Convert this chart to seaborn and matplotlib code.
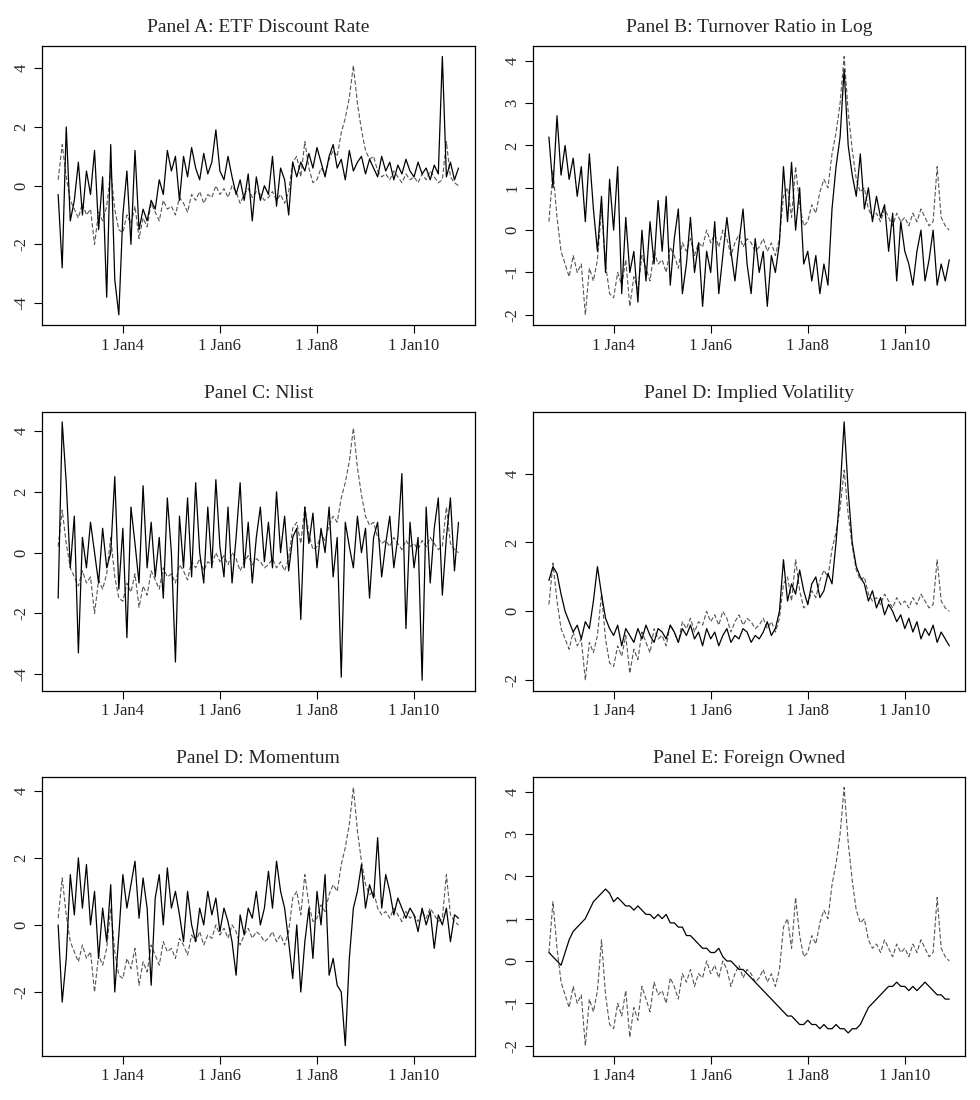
import numpy as np
import pandas as pd
import matplotlib
matplotlib.use("Agg")
import matplotlib.pyplot as plt
import seaborn as sns

sns.set_theme(style="white")
plt.rcParams['font.family'] = ['Liberation Serif', 'DejaVu Serif']

t = 2002 + 8/12 + np.arange(100) / 12.0

dashed = [0.2, 1.4, 0.3, -0.5,
 -0.8, -1.1, -0.6, -1.0, -0.8, -2.0, -0.9, -1.2, -0.7, 0.5, -0.8, -1.5,
 -1.6, -1.0, -1.3, -0.7, -1.8, -1.1, -1.4, -0.6, -0.9, -1.2, -0.5, -0.8,
 -0.7, -1.0, -0.4, -0.6, -0.9, -0.3, -0.5, -0.2, -0.6, -0.3, -0.4, 0.0,
 -0.3, -0.1, -0.4, 0.0, -0.2, -0.6, -0.3, -0.1, -0.4, -0.2, -0.3, -0.5,
 -0.4, -0.2, -0.5, -0.3, -0.6, -0.2, 0.8, 1.0, 0.3, 1.5, 0.6, 0.1,
 0.2, 0.6, 0.4, 0.9, 1.2, 1.0, 1.8, 2.3, 3.0, 4.1, 2.8, 1.9,
 1.2, 0.9, 1.0, 0.5, 0.3, 0.4, 0.2, 0.5, 0.3, 0.1, 0.4, 0.2,
 0.3, 0.1, 0.4, 0.2, 0.5, 0.3, 0.1, 0.2, 1.5, 0.3, 0.1, 0.0]

etf_discount = [-0.3, -2.8, 2.0, -1.2,
 -0.5, 0.8, -1.0, 0.5, -0.3, 1.2, -1.5, 0.3, -3.8, 1.4, -3.2, -4.4,
 -1.0, 0.5, -2.0, 1.2, -1.5, -0.8, -1.2, -0.5, -0.8, 0.2, -0.3, 1.2,
 0.5, 1.0, -0.5, 1.0, 0.3, 1.3, 0.6, 0.2, 1.1, 0.4, 0.8, 1.9,
 0.5, 0.2, 1.0, 0.3, -0.3, 0.2, -0.5, 0.4, -1.2, 0.3, -0.5, 0.0,
 -0.3, 1.0, -0.7, 0.6, 0.2, -1.0, 0.8, 0.3, 0.8, 0.5, 1.1, 0.6,
 1.3, 0.8, 0.3, 1.0, 1.4, 0.6, 0.9, 0.2, 1.2, 0.5, 0.8, 1.0,
 0.4, 0.9, 0.6, 0.3, 1.0, 0.5, 0.8, 0.2, 0.7, 0.4, 0.9, 0.5,
 0.3, 0.8, 0.4, 0.6, 0.2, 0.7, 0.4, 4.4, 0.3, 0.8, 0.2, 0.6]

turnover = [2.2, 1.0, 2.7, 1.3,
 2.0, 1.2, 1.7, 0.8, 1.5, 0.2, 1.8, 0.5, -0.5, 0.8, -1.0, 1.2,
 0.0, 1.5, -1.5, 0.3, -1.0, -0.5, -1.7, 0.0, -1.2, 0.2, -0.8, 0.7,
 -0.5, 0.8, -1.3, -0.2, 0.5, -1.5, -0.8, 0.3, -1.0, -0.3, -1.8, -0.5,
 -1.0, 0.2, -1.5, -0.6, 0.3, -0.5, -1.2, -0.3, 0.5, -0.8, -1.5, -0.2,
 -1.0, -0.5, -1.8, -0.6, -1.0, -0.3, 1.5, 0.2, 1.6, 0.0, 1.0, -0.8,
 -0.5, -1.2, -0.6, -1.5, -0.8, -1.3, 0.5, 1.5, 2.2, 3.8, 2.0, 1.3,
 0.8, 1.8, 0.5, 1.0, 0.2, 0.8, 0.3, 0.6, -0.5, 0.4, -1.2, 0.2,
 -0.5, -0.8, -1.3, -0.5, 0.0, -1.2, -0.7, 0.0, -1.3, -0.8, -1.2, -0.7]

nlist = [-1.5, 4.3, 2.3, -0.5,
 1.2, -3.3, 0.5, -0.5, 1.0, 0.0, -1.0, 0.8, -0.5, 0.0, 2.5, -1.2,
 0.8, -2.8, 1.5, 0.3, -1.0, 2.2, -0.5, 1.0, -0.8, 0.5, -1.5, 1.8,
 0.0, -3.6, 1.2, -0.5, 1.8, -0.8, 2.3, 0.0, -1.0, 1.5, -0.5, 2.4,
 0.2, -0.8, 1.5, -1.0, 0.5, 2.3, -0.5, 1.0, -1.0, 0.5, 1.5, -0.3,
 1.0, -0.5, 2.0, 0.0, 1.2, -0.6, 0.5, 0.8, -2.2, 1.5, 0.3, 1.3,
 -0.5, 0.8, 0.0, 1.5, -0.8, 0.5, -4.1, 1.0, 0.2, -0.5, 1.2, 0.0,
 0.8, -1.5, 0.5, 1.0, -0.8, 0.3, 1.2, -0.5, 0.5, 2.6, -2.5, 1.0,
 -0.5, 0.5, -4.2, 1.5, -1.0, 0.8, 1.8, -1.4, 0.5, 1.8, -0.6, 1.0]

implied_vol = [0.9, 1.3, 1.1, 0.5,
 0.0, -0.3, -0.6, -0.4, -0.8, -0.3, -0.5, 0.3, 1.3, 0.5, -0.2, -0.5,
 -0.7, -0.4, -1.0, -0.5, -0.7, -0.9, -0.5, -0.8, -0.4, -0.7, -0.9, -0.5,
 -0.6, -0.8, -0.4, -0.6, -0.9, -0.5, -0.7, -0.4, -0.8, -0.6, -1.0, -0.5,
 -0.8, -0.6, -1.0, -0.7, -0.5, -0.9, -0.7, -0.8, -0.5, -0.6, -0.9, -0.7,
 -0.8, -0.6, -0.3, -0.7, -0.5, 0.0, 1.5, 0.3, 0.8, 0.5, 1.2, 0.6,
 0.2, 0.8, 1.0, 0.4, 0.6, 1.1, 0.8, 2.0, 3.5, 5.5, 3.5, 2.0,
 1.3, 1.0, 0.8, 0.3, 0.6, 0.1, 0.4, -0.1, 0.2, 0.0, -0.3, -0.1,
 -0.5, -0.2, -0.6, -0.3, -0.8, -0.5, -0.7, -0.4, -0.9, -0.6, -0.8, -1.0]

momentum = [0.0, -2.3, -1.0, 1.5,
 0.3, 2.0, 0.5, 1.8, 0.0, 1.0, -1.0, 0.5, -0.5, 1.2, -2.0, -0.3,
 1.5, 0.5, 1.2, 1.9, 0.2, 1.4, 0.5, -1.8, 0.8, 1.5, 0.0, 1.7,
 0.5, 1.0, 0.3, -0.5, 1.0, 0.0, -0.5, 0.5, 0.0, 1.0, 0.3, 0.8,
 -0.2, 0.5, 0.1, -0.5, -1.5, 0.3, -0.3, 0.5, 0.2, 1.0, 0.0, 0.5,
 1.6, 0.5, 1.9, 1.0, 0.5, -0.5, -1.6, 0.0, -2.0, -0.5, 0.5, -1.0,
 1.0, 0.0, 1.5, -1.5, -1.0, -1.8, -2.0, -3.6, -1.0, 0.5, 1.0, 1.8,
 0.5, 1.2, 0.8, 2.6, 0.5, 1.5, 1.0, 0.3, 0.8, 0.5, 0.2, 0.5,
 0.3, -0.2, 0.5, 0.0, 0.4, -0.7, 0.3, 0.0, 0.5, -0.5, 0.3, 0.2]

foreign_owned = [0.2, 0.1, 0.0, -0.1,
 0.2, 0.5, 0.7, 0.8, 0.9, 1.0, 1.2, 1.4, 1.5, 1.6, 1.7, 1.6,
 1.4, 1.5, 1.4, 1.3, 1.3, 1.2, 1.3, 1.2, 1.1, 1.1, 1.0, 1.1,
 1.0, 1.1, 0.9, 0.9, 0.8, 0.8, 0.6, 0.6, 0.5, 0.4, 0.3, 0.3,
 0.2, 0.2, 0.3, 0.1, 0.0, 0.0, -0.1, -0.2, -0.2, -0.3, -0.4, -0.5,
 -0.6, -0.7, -0.8, -0.9, -1.0, -1.1, -1.2, -1.3, -1.3, -1.4, -1.5, -1.5,
 -1.4, -1.5, -1.5, -1.6, -1.5, -1.6, -1.6, -1.5, -1.6, -1.6, -1.7, -1.6,
 -1.6, -1.5, -1.3, -1.1, -1.0, -0.9, -0.8, -0.7, -0.6, -0.6, -0.5, -0.6,
 -0.6, -0.7, -0.6, -0.7, -0.6, -0.5, -0.6, -0.7, -0.8, -0.8, -0.9, -0.9]

titles = ["Panel A: ETF Discount Rate", "Panel B: Turnover Ratio in Log",
          "Panel C: Nlist", "Panel D: Implied Volatility",
          "Panel D: Momentum", "Panel E: Foreign Owned"]
series = [etf_discount, turnover, nlist, implied_vol, momentum, foreign_owned]
yticks = [[-4, -2, 0, 2, 4], [-2, -1, 0, 1, 2, 3, 4], [-4, -2, 0, 2, 4],
          [-2, 0, 2, 4], [-2, 0, 2, 4], [-2, -1, 0, 1, 2, 3, 4]]
xtick_pos = [2004, 2006, 2008, 2010]
xtick_labels = ["1 Jan4", "1 Jan6", "1 Jan8", "1 Jan10"]

fig, axes = plt.subplots(3, 2, figsize=(9.8, 11), dpi=100)
plt.subplots_adjust(left=0.043, right=0.985, top=0.958, bottom=0.04, wspace=0.135, hspace=0.31)

for ax, title, s, yt in zip(axes.flat, titles, series, yticks):
    df = pd.DataFrame({"t": t, "solid": s, "dashed": dashed})
    sns.lineplot(data=df, x="t", y="dashed", ax=ax, color="#555555", lw=0.8,
                 linestyle=(0, (4, 2)))
    sns.lineplot(data=df, x="t", y="solid", ax=ax, color="black", lw=0.9)
    allv = np.concatenate([s, dashed])
    lo, hi = allv.min(), allv.max()
    pad = (hi - lo) * 0.04
    ax.set_ylim(lo - pad, hi + pad)
    ax.set_xlim(t[0] - 0.33, t[-1] + 0.33)
    ax.set_xticks(xtick_pos)
    ax.set_xticklabels(xtick_labels, fontsize=12)
    ax.set_yticks(yt)
    ax.set_yticklabels([str(v) for v in yt], rotation=90, va="center", fontsize=12)
    ax.set_xlabel("")
    ax.set_ylabel("")
    ax.set_title(title, fontsize=14, pad=10)
    ax.tick_params(axis="both", direction="out", length=6, width=0.8, color="black",
                   bottom=True, left=True, pad=3)
    for sp in ax.spines.values():
        sp.set_color("black")
        sp.set_linewidth(0.9)

fig.savefig("out.png", dpi=100)
